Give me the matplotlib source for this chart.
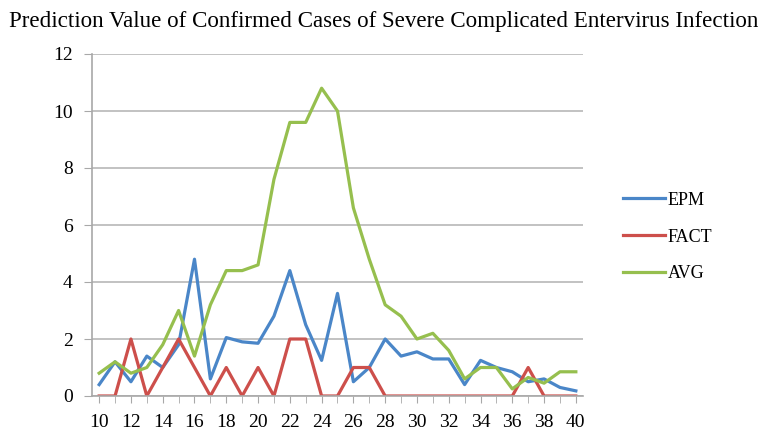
import matplotlib
matplotlib.use("Agg")
import matplotlib.pyplot as plt
from matplotlib.ticker import MultipleLocator

# === Data ===
weeks = list(range(10, 41))
epm = [0.4, 1.2, 0.5, 1.4, 1.0, 1.8, 4.8, 0.6, 2.05, 1.9, 1.85,
       2.8, 4.4, 2.5, 1.25, 3.6, 0.5, 1.0, 2.0, 1.4, 1.55,
       1.3, 1.3, 0.4, 1.25, 1.0, 0.85, 0.5, 0.6, 0.3, 0.18]
fact = [0, 0, 2, 0, 1, 2, 1, 0, 1, 0, 1,
        0, 2, 2, 0, 0, 1, 1, 0, 0, 0,
        0, 0, 0, 0, 0, 0, 1, 0, 0, 0]
avg = [0.8, 1.2, 0.8, 1.0, 1.8, 3.0, 1.4, 3.2, 4.4, 4.4, 4.6,
       7.6, 9.6, 9.6, 10.8, 10.0, 6.6, 4.8, 3.2, 2.8, 2.0,
       2.2, 1.6, 0.6, 1.0, 1.0, 0.25, 0.65, 0.45, 0.85, 0.85]

plt.rcParams['font.family'] = ['Liberation Serif', 'DejaVu Serif']

fig = plt.figure(figsize=(7.67, 4.33), dpi=100)
ax = fig.add_axes([92 / 767, 37 / 433, 491 / 767, 342 / 433])

ax.plot(weeks, epm, color='#4A86C8', lw=2.3, label='EPM')
ax.plot(weeks, fact, color='#CD4F4B', lw=2.3, label='FACT')
ax.plot(weeks, avg, color='#96BF4E', lw=2.3, label='AVG')

ax.set_xlim(9.55, 40.45)
ax.set_ylim(0, 12)
ax.set_yticks(range(0, 13, 2))
ax.set_xticks(range(10, 41, 2))
ax.xaxis.set_minor_locator(MultipleLocator(1))
ax.yaxis.grid(True, color='#BDBDBD', lw=1.3)
ax.set_axisbelow(True)
for s in ['top', 'right']:
    ax.spines[s].set_visible(False)
for s in ['left', 'bottom']:
    ax.spines[s].set_color('#A8A8A8')
    ax.spines[s].set_linewidth(1.2)
ax.tick_params(axis='y', length=6, color='#A8A8A8', labelsize=14, pad=8)
ax.tick_params(axis='x', which='both', length=5, direction='out', color='#A8A8A8',
               labelsize=14, pad=8)

fig.text(0.5, 1 - 21 / 433, "Prediction Value of Confirmed Cases of Severe Complicated Entervirus Infection",
         ha='center', va='center', fontsize=16.6)

fig.legend(loc='center left', bbox_to_anchor=(607 / 767, 1 - 237 / 433), frameon=False,
           fontsize=13, handlelength=2.3, handletextpad=0.15, labelspacing=1.1)

fig.savefig("out.png", dpi=100)
